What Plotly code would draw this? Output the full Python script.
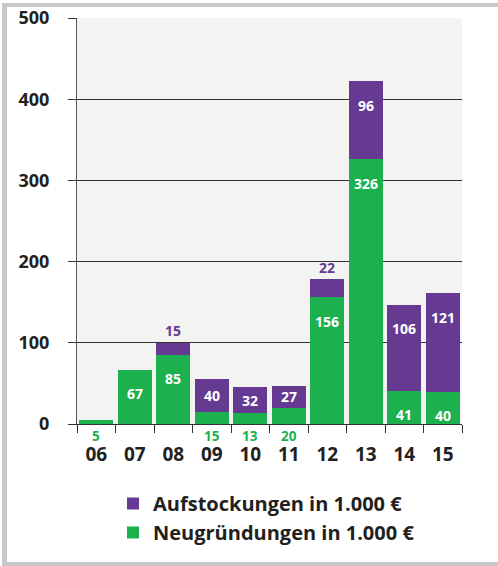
import plotly.graph_objects as go

years = ["06", "07", "08", "09", "10", "11", "12", "13", "14", "15"]
neu = [5, 67, 85, 15, 13, 20, 156, 326, 41, 40]
auf = [0, 0, 15, 40, 32, 27, 22, 96, 106, 121]
y_ticks = [0, 100, 200, 300, 400, 500]

GREEN = "#1db04f"
PURPLE = "#663a93"
DARK = "#231f20"
FONT = "Open Sans"

W, H = 498, 566
ML, MR, MT, MB = 77, 36, 18, 142
plot_h = H - MT - MB
ymax = 500
px_per_unit = plot_h / ymax

fig = go.Figure()
fig.add_bar(x=years, y=neu, name="Neugründungen in 1.000 €", marker_color=GREEN,
            marker_line_width=0, legendgroup="n", legendrank=2)
fig.add_bar(x=years, y=auf, name="Aufstockungen in 1.000 €", marker_color=PURPLE,
            marker_line_width=0, legendgroup="a", legendrank=1)

ann = []
lab_font = dict(family=FONT, size=14, color="white", weight="bold")
for i, yr in enumerate(years):
    g = neu[i]
    a = auf[i]
    # green labels
    if g < 30:
        ann.append(dict(x=i, y=0, text=str(g), showarrow=False,
                        yanchor="middle", yshift=-12,
                        font=dict(family=FONT, size=13.5, color=GREEN, weight="bold")))
    else:
        ann.append(dict(x=i, y=g, text=str(g), showarrow=False, yanchor="middle",
                        yshift=-24, font=lab_font))
    # purple labels
    if a == 0:
        continue
    top = g + a
    if a < 25:
        ann.append(dict(x=i, y=top, text=str(a), showarrow=False, yanchor="middle",
                        yshift=12,
                        font=dict(family=FONT, size=14, color=PURPLE, weight="bold")))
    else:
        hpx = a * px_per_unit
        off = min(24, hpx / 2)
        ann.append(dict(x=i, y=top, text=str(a), showarrow=False, yanchor="middle",
                        yshift=-off, font=lab_font))

plot_w = W - ML - MR
def px_x(p):
    return (p - ML) / plot_w
def px_y(p):
    return (H - MB - p) / plot_h

frame = "#c8c8c8"
shapes = [
    dict(type="rect", xref="paper", yref="paper", x0=px_x(2), x1=px_x(7),
         y0=px_y(566), y1=px_y(3), fillcolor=frame, line_width=0, layer="below"),
    dict(type="rect", xref="paper", yref="paper", x0=px_x(2), x1=px_x(498),
         y0=px_y(7), y1=px_y(3), fillcolor=frame, line_width=0, layer="below"),
    dict(type="rect", xref="paper", yref="paper", x0=px_x(2), x1=px_x(498),
         y0=px_y(566), y1=px_y(562), fillcolor=frame, line_width=0, layer="below"),
]

fig.update_layout(
    width=W, height=H,
    margin=dict(l=ML, r=MR, t=MT, b=MB, autoexpand=False),
    paper_bgcolor="white",
    plot_bgcolor="#f3f3f1",
    barmode="stack",
    bargap=0.12,
    font=dict(family=FONT, color=DARK),
    annotations=ann,
    shapes=shapes,
    legend=dict(
        x=px_x(113), y=px_y(484), xanchor="left", yanchor="top",
        traceorder="grouped", tracegroupgap=0,
        font=dict(family=FONT, size=20, color=DARK, weight="bold"),
        bgcolor="rgba(0,0,0,0)",
    ),
    xaxis=dict(
        type="category",
        tickmode="array", tickvals=years, ticktext=years, tickangle=0,
        tickson="boundaries",
        ticks="outside", ticklen=8, tickcolor="#333", tickwidth=1,
        showline=True, linecolor="#333", linewidth=1,
        tickfont=dict(family=FONT, size=19, color=DARK, weight="bold"),
        ticklabelstandoff=13,
        showgrid=False,
    ),
    yaxis=dict(
        range=[0, ymax],
        tickvals=y_ticks,
        ticks="outside", ticklen=8, tickcolor="#333", tickwidth=1,
        showline=True, linecolor="#555", linewidth=1,
        showgrid=True, gridcolor="#333", gridwidth=1,
        tickfont=dict(family=FONT, size=18, color=DARK, weight="bold"),
        ticklabelstandoff=15,
        zeroline=False,
    ),
)

fig.write_html("out.html", config={"displayModeBar": False},
               post_script="document.body.style.margin='0';document.body.style.padding='0';")
